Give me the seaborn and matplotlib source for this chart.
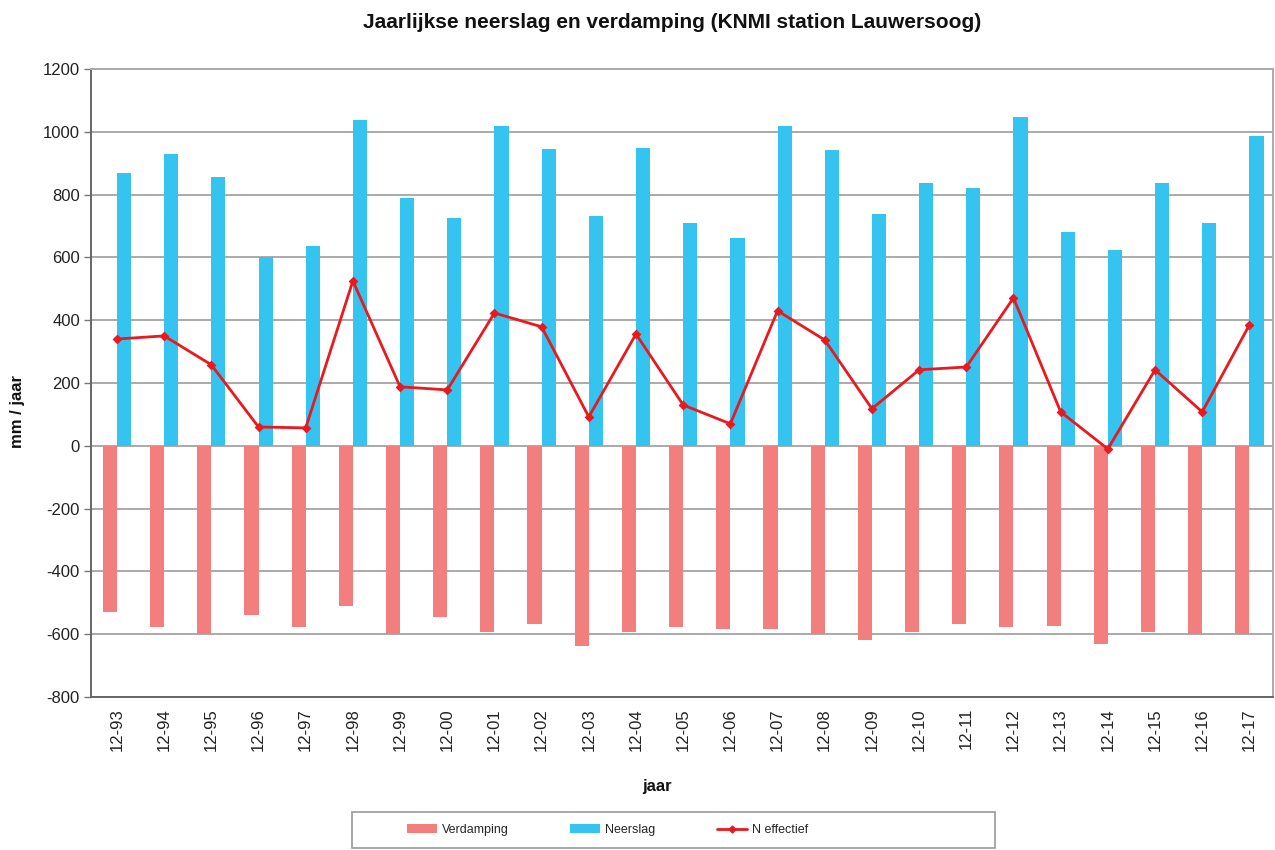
import matplotlib
matplotlib.use("Agg")
import matplotlib.pyplot as plt
from matplotlib.patches import Rectangle, Patch
from matplotlib.lines import Line2D
import numpy as np
import pandas as pd
import seaborn as sns

# Yearly totals (mm/jaar), KNMI station Lauwersoog, hydrological years Dec-Nov
jaren = ["12-93", "12-94", "12-95", "12-96", "12-97", "12-98", "12-99", "12-00",
         "12-01", "12-02", "12-03", "12-04", "12-05", "12-06", "12-07", "12-08",
         "12-09", "12-10", "12-11", "12-12", "12-13", "12-14", "12-15", "12-16",
         "12-17"]
neerslag = [870, 928, 856, 600, 636, 1037, 789, 726, 1018, 945, 733, 948, 708,
            662, 1018, 941, 739, 837, 822, 1047, 681, 623, 836, 708, 988]
verdamping = [-528, -576, -598, -538, -576, -509, -598, -544, -592, -567, -637,
              -592, -576, -585, -585, -598, -617, -592, -567, -576, -573, -630,
              -592, -598, -598]
n_effectief = [340, 350, 258, 60, 57, 525, 188, 178, 423, 379, 92, 356, 130, 70,
               430, 337, 118, 242, 251, 471, 108, -10, 242, 108, 385]

yticks = list(range(-800, 1201, 200))

C_VERD = "#F27E7E"
C_NEER = "#35C4F0"
C_NEFF = "#E8191F"

sns.set_style("white")
plt.rcParams["font.family"] = ["Liberation Sans", "DejaVu Sans"]

df = pd.DataFrame({
    "jaar": jaren * 2,
    "mm": verdamping + neerslag,
    "reeks": ["Verdamping"] * len(jaren) + ["Neerslag"] * len(jaren),
})

fig = plt.figure(figsize=(12.75, 8.5), dpi=100)
ax = fig.add_axes([91 / 1275, 1 - 697 / 850, (1273 - 91) / 1275, (697 - 69) / 850])

sns.barplot(data=df, x="jaar", y="mm", hue="reeks", order=jaren,
            hue_order=["Verdamping", "Neerslag"],
            palette={"Verdamping": C_VERD, "Neerslag": C_NEER},
            width=0.6, dodge=True, saturation=1, errorbar=None,
            linewidth=0, legend=False, ax=ax)

sns.pointplot(x=jaren, y=n_effectief, order=jaren, color=C_NEFF, markers="D",
              markersize=3.5, linewidth=2.0, errorbar=None, ax=ax)

ax.set_xlim(-0.55, len(jaren) - 0.5)
ax.set_ylim(-800, 1200)
ax.set_yticks(yticks)
ax.set_yticklabels([str(v) for v in yticks], fontsize=12, color="#222222")
ax.tick_params(axis="y", length=5, width=1, color="#777777", pad=3, left=True)
ax.tick_params(axis="x", length=0, labelrotation=90, labelsize=12,
               labelcolor="#222222", pad=8)
ax.set_axisbelow(True)
ax.yaxis.grid(True, color="#aaaaaa", linewidth=1.4)
ax.xaxis.grid(False)
for side in ("left", "bottom", "right", "top"):
    ax.spines[side].set_visible(True)
    ax.spines[side].set_color("#aaaaaa")
    ax.spines[side].set_linewidth(1.4)
ax.spines["left"].set_color("#666666")
ax.spines["bottom"].set_color("#666666")
ax.set_xlabel("")
ax.set_ylabel("")

fig.text(672 / 1275, 1 - 22 / 850,
         "Jaarlijkse neerslag en verdamping (KNMI station Lauwersoog)",
         ha="center", va="center", fontsize=15, fontweight="bold", color="#111111")
fig.text(18 / 1275, 1 - 412 / 850, "mm / jaar", ha="center", va="center",
         rotation=90, fontsize=12, fontweight="bold", color="#111111")
fig.text(657 / 1275, 1 - 786 / 850, "jaar", ha="center", va="center",
         fontsize=12, fontweight="bold", color="#111111")

# legend frame and entries below the chart
fig.patches.append(Rectangle((352 / 1275, 1 - 848 / 850), (995 - 352) / 1275,
                             (848 - 812) / 850, transform=fig.transFigure,
                             fill=False, edgecolor="#999999", linewidth=1.2))
handles = [
    Patch(facecolor=C_VERD, edgecolor="none", label="Verdamping"),
    Patch(facecolor=C_NEER, edgecolor="none", label="Neerslag"),
    Line2D([], [], color=C_NEFF, linewidth=2.0, marker="D", markersize=3.5,
           label="N effectief"),
]
fig.legend(handles=handles, loc="center left",
           bbox_to_anchor=(407 / 1275, 1 - 830 / 850), ncol=3, frameon=False,
           fontsize=9, handlelength=2.4, handleheight=0.7, handletextpad=0.4,
           columnspacing=4.9, borderpad=0.0, borderaxespad=0.0)

fig.savefig("out.png", dpi=100)
